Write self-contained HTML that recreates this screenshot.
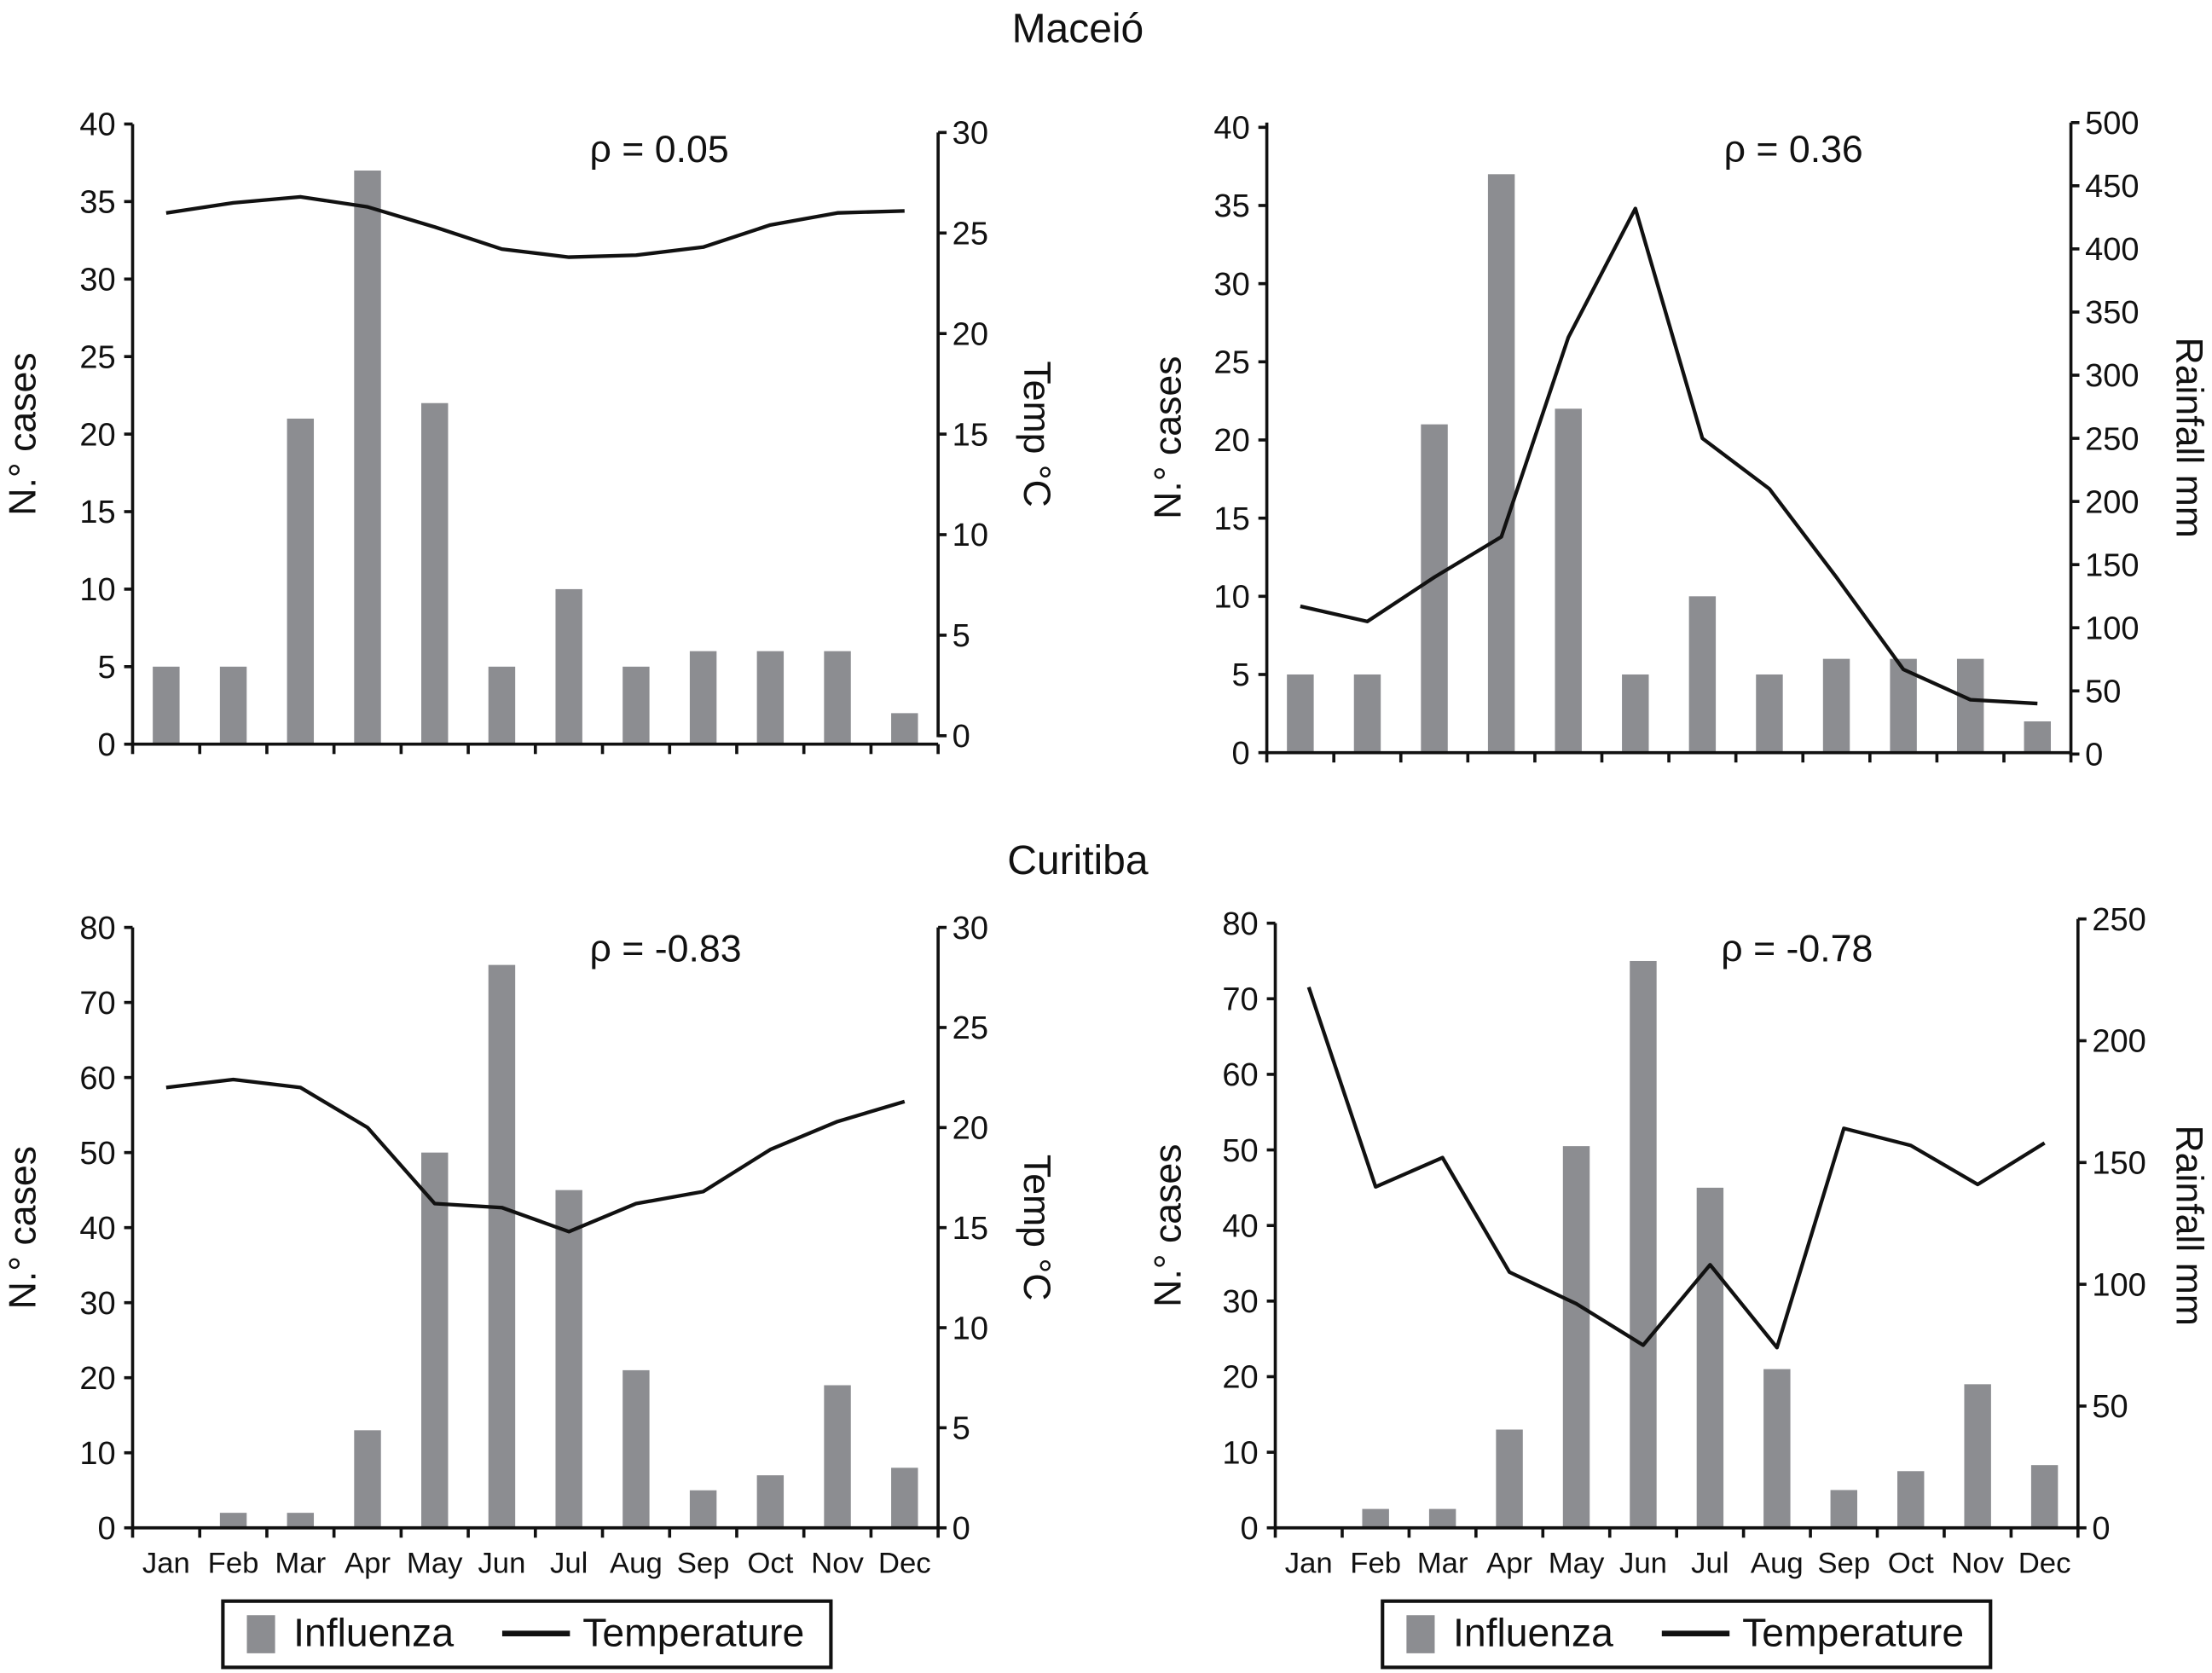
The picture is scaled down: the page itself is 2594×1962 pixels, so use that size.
<!DOCTYPE html>
<html><head><meta charset="utf-8">
<style>
html,body{margin:0;padding:0;background:#fff;}
svg{display:block;font-family:"Liberation Sans Narrow","Liberation Sans",sans-serif;}
</style></head>
<body>
<svg id="chart" width="2594" height="1962" viewBox="0 0 1568 1187" preserveAspectRatio="none" xmlns="http://www.w3.org/2000/svg"></svg>
<script>
const months = ["Jan","Feb","Mar","Apr","May","Jun","Jul","Aug","Sep","Oct","Nov","Dec"];
const maceioCases = [5,5,21,37,22,5,10,5,6,6,6,2];
const maceioTemp = [26.0,26.5,26.8,26.3,25.3,24.2,23.8,23.9,24.3,25.4,26.0,26.1];
const maceioRain = [117,105,140,172,330,432,250,210,140,67,43,40];
const curitibaCases = [0,2,2,13,50,75,45,21,5,7,19,8];
const curitibaCases2 = [0,2.5,2.5,13,50.5,75,45,21,5,7.5,19,8.3];
const curitibaTemp = [22.0,22.4,22.0,20.0,16.2,16.0,14.8,16.2,16.8,18.9,20.3,21.3];
const curitibaRain = [222,140,152,105,92,75,108,74,164,157,141,158];
const leftTicksTop = [0,5,10,15,20,25,30,35,40];
const leftTicksBottom = [0,10,20,30,40,50,60,70,80];
const tempTicks = [0,5,10,15,20,25,30];
const rainTicksTop = [0,50,100,150,200,250,300,350,400,450,500];
const rainTicksBottom = [0,50,100,150,200,250];
const rhoLabels = ["ρ = 0.05","ρ = 0.36","ρ = -0.83","ρ = -0.78"];

const NS="http://www.w3.org/2000/svg";
const svg=document.getElementById('chart');
function mk(tag,attrs,parent){const e=document.createElementNS(NS,tag);for(const k in attrs)e.setAttribute(k,attrs[k]);(parent||svg).appendChild(e);return e;}

function panel(cfg){
  const g=mk('g',{});
  
  
  const {x0,x1,y0,y1}=cfg;
  const yL=v=>y0-(v/cfg.lMax)*(y0-y1);
  const yR=v=>cfg.rY0-(v/cfg.rMax)*(cfg.rY0-cfg.rY1);
  const bw=(x1-x0)/12;
  const xC=i=>x0+bw*(i+0.5);
  // bars
  cfg.cases.forEach((v,i)=>{
    const r=mk('rect',{x:xC(i)-9.5,y:yL(v),width:19,height:y0-yL(v),fill:'#8c8d91'},g);
    
    
  });
  // line
  const pts=cfg.line.map((v,i)=>xC(i)+','+yR(v)).join(' ');
  const pl=mk('polyline',{points:pts,fill:'none',stroke:'#111',"stroke-width":2.6,"stroke-linejoin":"round"},g);
  
  
  // axes
  const ax=mk('g',{stroke:'#111',"stroke-width":2.2},g);
  
  
  mk('line',{x1:x0,y1:y1,x2:x0,y2:y0+1},ax);
  mk('line',{x1:x1,y1:cfg.rY1,x2:x1,y2:cfg.rY0+1},ax);
  mk('line',{x1:x0,y1:y0,x2:x1,y2:y0},ax);
  for(let i=0;i<=12;i++) mk('line',{x1:x0+bw*i,y1:y0,x2:x0+bw*i,y2:y0+7},ax);
  cfg.lTicks.forEach(v=>{
    mk('line',{x1:x0-6,y1:yL(v),x2:x0,y2:yL(v)},ax);
    const t=mk('text',{x:x0-12,y:yL(v)+8,"text-anchor":"end","font-size":23,fill:'#111'},g);t.textContent=v;
    
    
  });
  cfg.rTicks.forEach(v=>{
    mk('line',{x1:x1,y1:yR(v),x2:x1+6,y2:yR(v)},ax);
    const t=mk('text',{x:x1+10,y:yR(v)+8,"text-anchor":"start","font-size":23,fill:'#111'},g);t.textContent=v;
    
    
  });
  if(cfg.showMonths) months.forEach((m,i)=>{
    const t=mk('text',{x:xC(i),y:y0+32,"text-anchor":"middle","font-size":21,fill:'#111'},g);t.textContent=m;
    
    
  });
  const lt=mk('text',{transform:`translate(${cfg.lTitleX},${(y0+y1)/2}) rotate(-90)`,"text-anchor":"middle","font-size":27,fill:'#111'},g);
  lt.textContent='N.° cases';
  
  
  const rt=mk('text',{transform:`translate(${cfg.rTitleX},${(y0+y1)/2}) rotate(90)`,"text-anchor":"middle","font-size":27,fill:'#111'},g);
  rt.textContent=cfg.rTitle;
  
  
  const rho=mk('text',{x:cfg.rhoX,y:cfg.rhoY,"text-anchor":"start","font-size":27,fill:'#111'},g);
  rho.textContent=cfg.rho;
  
  
}

panel({name:'maceio-temp-panel',x0:94,x1:665,y0:528,y1:88,lMax:40,rY0:522,rY1:94,rMax:30,cases:maceioCases,line:maceioTemp,lTicks:leftTicksTop,rTicks:tempTicks,showMonths:false,lTitleX:25,rTitleX:726,rTitle:'Temp °C',rho:rhoLabels[0],rhoX:418,rhoY:115});
panel({name:'maceio-rain-panel',x0:898,x1:1468,y0:534,y1:87,lMax:40.3,rY0:535,rY1:87,rMax:500,cases:maceioCases,line:maceioRain,lTicks:leftTicksTop,rTicks:rainTicksTop,showMonths:false,lTitleX:837,rTitleX:1543,rTitle:'Rainfall mm',rho:rhoLabels[1],rhoX:1222,rhoY:115});
panel({name:'curitiba-temp-panel',x0:94,x1:665,y0:1084,y1:658,lMax:80,rY0:1084,rY1:658,rMax:30,cases:curitibaCases,line:curitibaTemp,lTicks:leftTicksBottom,rTicks:tempTicks,showMonths:true,lTitleX:25,rTitleX:726,rTitle:'Temp °C',rho:rhoLabels[2],rhoX:418,rhoY:682});
panel({name:'curitiba-rain-panel',x0:904,x1:1473,y0:1084,y1:655,lMax:80,rY0:1084,rY1:652,rMax:250,cases:curitibaCases2,line:curitibaRain,lTicks:leftTicksBottom,rTicks:rainTicksBottom,showMonths:true,lTitleX:837,rTitleX:1543,rTitle:'Rainfall mm',rho:rhoLabels[3],rhoX:1220,rhoY:682});

[["Maceió",30,'maceio-title'],["Curitiba",620,'curitiba-title']].forEach(([s,y,n])=>{
  const t=mk('text',{x:764,y:y,"text-anchor":"middle","font-size":29,fill:'#111'});t.textContent=s;
  
  
});

[158,980].forEach((lx,k)=>{
  const g=mk('g',{});
  
  
  mk('rect',{x:lx,y:1136,width:431,height:47,fill:'#fff',stroke:'#111',"stroke-width":2.5},g);
  mk('rect',{x:lx+17,y:1146,width:20,height:27,fill:'#8c8d91'},g);
  const t1=mk('text',{x:lx+50,y:1168,"font-size":28,fill:'#111'},g);t1.textContent='Influenza';
  
  
  mk('line',{x1:lx+198,y1:1159,x2:lx+246,y2:1159,stroke:'#111',"stroke-width":4},g);
  const t2=mk('text',{x:lx+255,y:1168,"font-size":28,fill:'#111'},g);t2.textContent='Temperature';
  
  
});
</script>
</body></html>
